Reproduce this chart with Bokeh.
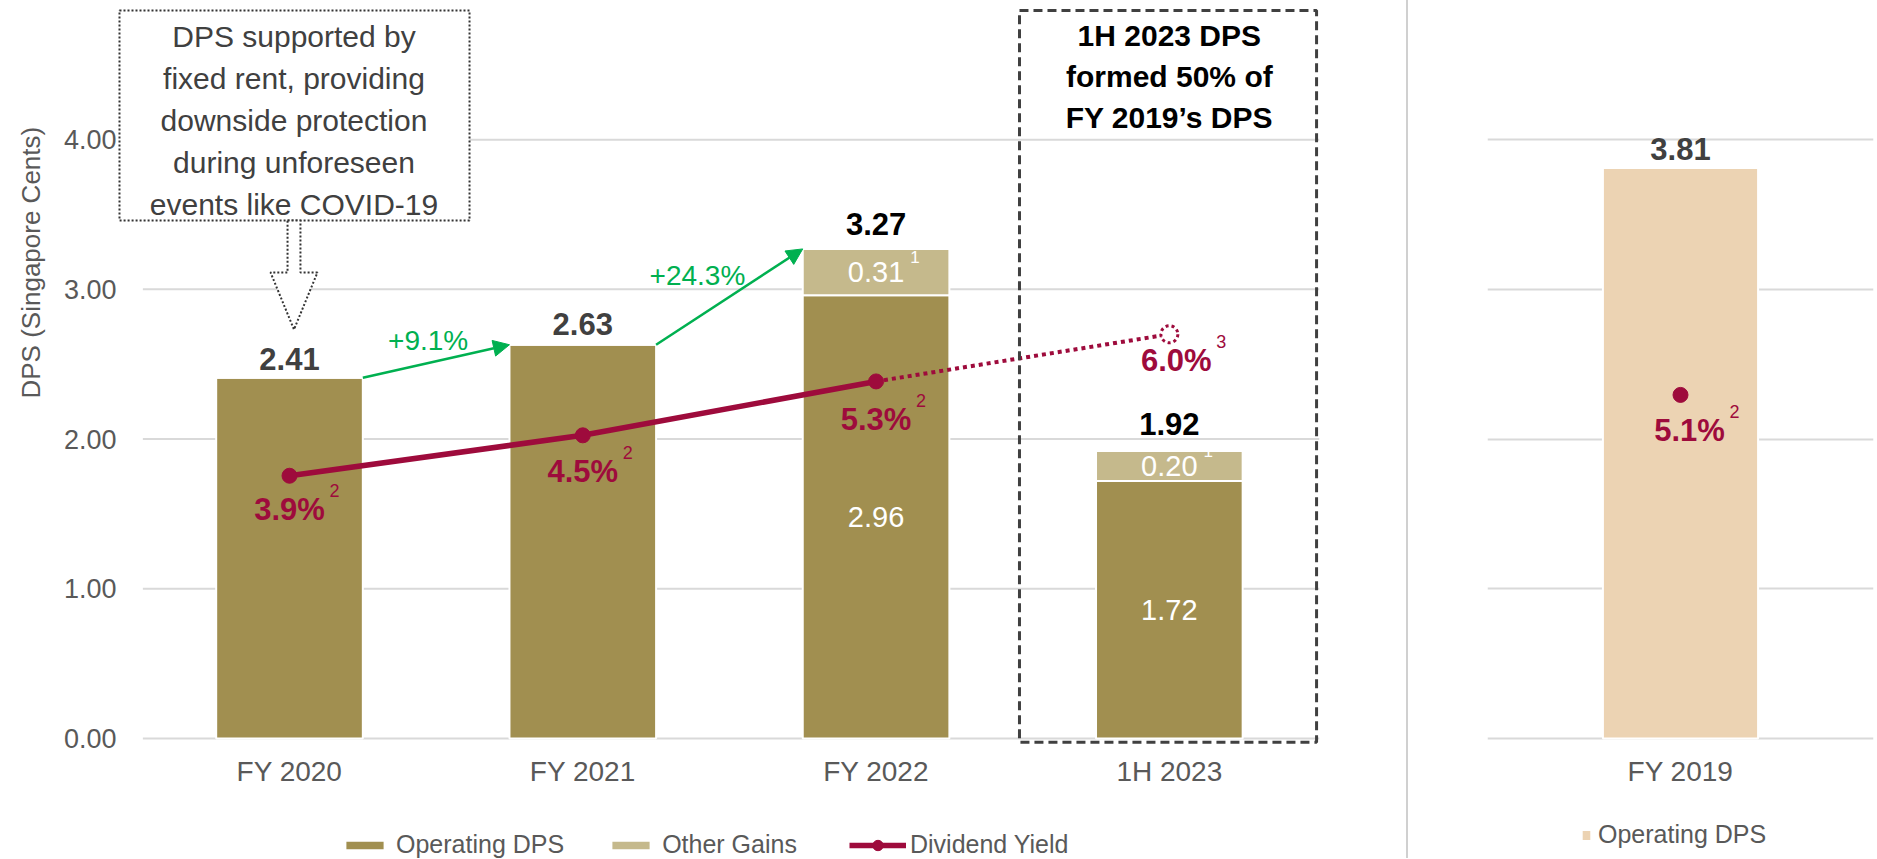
from bokeh.plotting import figure
from bokeh.models import (ColumnDataSource, Range1d, FixedTicker, Legend, LegendItem, Label,
                          BoxAnnotation, PolyAnnotation, Arrow, NormalHead, Div, Title,
                          NumeralTickFormatter)
from bokeh.layouts import row
from bokeh.embed import file_html
from bokeh.resources import INLINE
from bokeh.core.properties import value

# ---------------- data ----------------
categories = ["FY 2020", "FY 2021", "FY 2022", "1H 2023"]
operating_dps = [2.41, 2.63, 2.96, 1.72]
other_gains = [0.00, 0.00, 0.31, 0.20]
dividend_yield = [3.9, 4.5, 5.3, 6.0]          # %
yield_notes = ["2", "2", "2", "3"]
other_note = "1"
growth_labels = ["+9.1%", "+24.3%"]

ref_category = ["FY 2019"]
ref_operating_dps = [3.81]
ref_yield = [5.1]
ref_yield_note = ["2"]

y_ticks = [0, 1, 2, 3, 4]

annotation_text = ("DPS supported by\nfixed rent, providing\ndownside protection\n"
                   "during unforeseen\nevents like COVID-19")
box_text = "1H 2023 DPS\nformed 50% of\nFY 2019\u2019s DPS"
y_title = "DPS (Singapore Cents)"

# ---------------- style ----------------
FONT = "Liberation Sans"
OP = "#A18F50"
OG = "#C5B98C"
REF = "#ECD3B3"
YC = "#9E0B3C"
GREEN = "#00B050"
GRID = "#D9D9D9"
AX = "#595959"
DARK = "#404040"

Y0, Y1 = -0.8016, 4.876
K = 0.45              # DPS-axis units per 1 % of yield
X0, X1 = -0.5865, 3.512

total_label_offsets = [-19, -21, -25, -27]
total_label_colors = [DARK, DARK, "#000000", "#000000"]
yield_label_dx = [0, 0, 0, 7]
yield_label_dy = [34, 36, 38, 26]
growth_dx = [-8, -32]

idx = list(range(len(categories)))
totals = [round(a + b, 2) for a, b in zip(operating_dps, other_gains)]


def style_xaxis(p):
    p.outline_line_color = None
    p.xgrid.grid_line_color = None
    for ax in p.xaxis:
        ax.fixed_location = 0
        ax.axis_line_color = None
        ax.major_tick_line_color = None
        ax.minor_tick_line_color = None
        ax.major_tick_out = 0
        ax.major_label_text_font = FONT
        ax.major_label_text_font_size = "28px"
        ax.major_label_text_color = AX
        ax.major_label_standoff = 18


def legend_style(**kw):
    base = dict(orientation="horizontal", border_line_color=None, background_fill_alpha=0,
                padding=0, margin=0, label_text_font=FONT, label_text_font_size="25px",
                label_text_color=AX)
    base.update(kw)
    return base


# ================= left figure =================
p = figure(width=1406, height=858, x_range=Range1d(X0, X1), y_range=Range1d(Y0, Y1),
           output_backend="svg", toolbar_location=None,
           min_border_left=117, min_border_right=87, min_border_top=8, min_border_bottom=0)
p.extra_y_ranges = {"yld": Range1d(Y0 / K, Y1 / K)}
style_xaxis(p)
p.ygrid.grid_line_color = None
p.xaxis.ticker = FixedTicker(ticks=idx)
p.xaxis.major_label_overrides = {i: c for i, c in zip(idx, categories)}
p.yaxis.ticker = FixedTicker(ticks=y_ticks)
p.yaxis.formatter = NumeralTickFormatter(format="0.00")
p.yaxis.axis_line_color = None
p.yaxis.major_tick_line_color = None
p.yaxis.minor_tick_line_color = None
p.yaxis.major_tick_out = 0
p.yaxis.major_label_text_font = FONT
p.yaxis.major_label_text_font_size = "27px"
p.yaxis.major_label_text_color = AX
p.yaxis.major_label_standoff = 1

# horizontal gridlines over the category slots
p.segment(x0=[idx[0] - 0.5] * len(y_ticks), x1=[X1] * len(y_ticks), y0=y_ticks, y1=y_ticks,
          line_color=GRID, line_width=2)

src = ColumnDataSource(dict(
    x=idx, op=operating_dps, other=other_gains, total=totals,
    total_txt=[f"{t:.2f}" for t in totals],
    total_dy=total_label_offsets, total_col=total_label_colors,
))
op_r = p.vbar(x="x", bottom=0, top="op", width=0.5, fill_color=OP, line_color="white",
              line_width=2, source=src)
og_r = p.vbar(x="x", bottom="op", top="total", width=0.5, fill_color=OG, line_color="white",
              line_width=2, source=src)

p.text(x="x", y="total", text="total_txt", y_offset="total_dy", text_color="total_col",
       text_align="center", text_baseline="middle", text_font=value(FONT),
       text_font_size="31px", text_font_style="bold", source=src)

# labels inside stacked bars (only where other gains exist)
sx = [i for i, g in zip(idx, other_gains) if g > 0]
s_op = [o for o, g in zip(operating_dps, other_gains) if g > 0]
s_g = [g for g in other_gains if g > 0]
p.text(x=sx, y=[o / 2 for o in s_op], text=[f"{o:.2f}" for o in s_op], text_color="white",
       text_align="center", text_baseline="middle", text_font=value(FONT), text_font_size="29px")
p.text(x=sx, y=[o + g / 2 for o, g in zip(s_op, s_g)], text=[f"{g:.2f}" for g in s_g],
       text_color="white", text_align="center", text_baseline="middle",
       text_font=value(FONT), text_font_size="29px")
p.text(x=sx, y=[o + g / 2 for o, g in zip(s_op, s_g)], text=[other_note] * len(sx),
       x_offset=39, y_offset=-15, text_color="white", text_align="center",
       text_baseline="middle", text_font=value(FONT), text_font_size="17px")

# growth arrows
for i in range(len(growth_labels)):
    p.add_layout(Arrow(end=NormalHead(size=16, fill_color=GREEN, line_color=GREEN),
                       x_start=idx[i] + 0.25, y_start=totals[i],
                       x_end=idx[i + 1] - 0.25, y_end=totals[i + 1],
                       line_color=GREEN, line_width=2.5))
p.text(x=[idx[i] + 0.5 for i in range(len(growth_labels))],
       y=[(totals[i] + totals[i + 1]) / 2 for i in range(len(growth_labels))],
       text=growth_labels, x_offset=growth_dx, y_offset=-21, text_color=GREEN,
       text_align="center", text_baseline="middle", text_font=value(FONT),
       text_font_size="28px")

# dividend yield
line_r = p.line(x=idx[:3], y=dividend_yield[:3], y_range_name="yld", line_color=YC,
                line_width=5.5)
p.line(x=idx[2:4], y=dividend_yield[2:4], y_range_name="yld", line_color=YC,
       line_width=4, line_dash="4 4")
dot_r = p.scatter(x=idx[:3], y=dividend_yield[:3], y_range_name="yld", size=15,
                  fill_color=YC, line_color=YC)
p.scatter(x=idx[3:], y=dividend_yield[3:], y_range_name="yld", size=17, fill_color="white",
          line_color=YC, line_width=3, line_dash="3 3")
p.text(x=idx, y=dividend_yield, y_range_name="yld", text=[f"{v:.1f}%" for v in dividend_yield],
       x_offset=yield_label_dx, y_offset=yield_label_dy, text_color=YC, text_align="center",
       text_baseline="middle", text_font=value(FONT), text_font_size="31px",
       text_font_style="bold")
p.text(x=idx, y=dividend_yield, y_range_name="yld", text=yield_notes,
       x_offset=[d + 45 for d in yield_label_dx], y_offset=[d - 19 for d in yield_label_dy],
       text_color=YC, text_align="center", text_baseline="middle", text_font=value(FONT),
       text_font_size="18px")

# 1H 2023 dashed box
p.add_layout(BoxAnnotation(left=idx[3] - 0.511, right=idx[3] + 0.502, bottom=-0.025, top=4.863,
                           fill_alpha=0, line_color=DARK, line_alpha=1, line_width=3,
                           line_dash="9 5"))
p.add_layout(Label(x=idx[3], y=4.422, text=box_text, text_align="center",
                   text_baseline="middle", text_font=FONT, text_font_size="30px",
                   text_font_style="bold", text_color="#000000", text_line_height=1.25))

# callout box with arrow
p.add_layout(BoxAnnotation(left=idx[0] - 0.5797, right=idx[0] + 0.6138, bottom=3.46, top=4.863,
                           fill_color="white", fill_alpha=1, line_color="#333333",
                           line_alpha=1, line_width=2, line_dash="2 2"))
ax0 = idx[0] + 0.0153
p.add_layout(PolyAnnotation(
    xs=[ax0 - 0.022, ax0 + 0.022, ax0 + 0.022, ax0 + 0.08, ax0, ax0 - 0.08, ax0 - 0.022],
    ys=[3.46, 3.46, 3.113, 3.113, 2.732, 3.113, 3.113],
    fill_color="white", fill_alpha=1, line_color="#333333", line_alpha=1, line_width=2,
    line_dash="2 2"))
p.add_layout(Label(x=ax0, y=4.128, text=annotation_text, text_align="center",
                   text_baseline="middle", text_font=FONT, text_font_size="30px",
                   text_color=DARK, text_line_height=1.28))

# y-axis title
p.add_layout(Title(text=y_title, align="left", vertical_align="top", offset=460, standoff=26,
                   text_font=FONT, text_font_size="26px", text_font_style="normal",
                   text_color=AX), "left")

legend_a = Legend(items=[LegendItem(label="Operating DPS", renderers=[op_r]),
                         LegendItem(label="Other Gains", renderers=[og_r])],
                  location=(223, -1), spacing=42, label_standoff=7,
                  glyph_width=49, glyph_height=12, **legend_style())
legend_b = Legend(items=[LegendItem(label="Dividend Yield", renderers=[line_r, dot_r])],
                  location=(732, -1), label_standoff=4, glyph_width=57, glyph_height=26,
                  **legend_style())
p.add_layout(legend_a)
p.add_layout(legend_b)

# ================= right figure =================
p2 = figure(width=468, height=858, x_range=Range1d(-0.5, 0.5), y_range=Range1d(Y0, Y1),
            output_backend="svg", toolbar_location=None, y_axis_location=None,
            min_border_left=79, min_border_right=3, min_border_top=8, min_border_bottom=0)
p2.extra_y_ranges = {"yld": Range1d(Y0 / K, Y1 / K)}
style_xaxis(p2)
p2.ygrid.ticker = FixedTicker(ticks=y_ticks)
p2.ygrid.grid_line_color = GRID
p2.ygrid.grid_line_width = 2
rx = list(range(len(ref_category)))
p2.xaxis.ticker = FixedTicker(ticks=rx)
p2.xaxis.major_label_overrides = {i: c for i, c in zip(rx, ref_category)}

src2 = ColumnDataSource(dict(x=rx, op=ref_operating_dps,
                             txt=[f"{v:.2f}" for v in ref_operating_dps]))
r19 = p2.vbar(x="x", bottom=0, top="op", width=0.402, fill_color=REF, line_color="white",
              line_width=2, source=src2)
p2.text(x="x", y="op", text="txt", y_offset=-19, text_color=DARK, text_align="center",
        text_baseline="middle", text_font=value(FONT), text_font_size="31px",
        text_font_style="bold", source=src2)
p2.scatter(x=rx, y=ref_yield, y_range_name="yld", size=15, fill_color=YC, line_color=YC)
p2.text(x=rx, y=ref_yield, y_range_name="yld", text=[f"{v:.1f}%" for v in ref_yield],
        x_offset=9, y_offset=36, text_color=YC, text_align="center", text_baseline="middle",
        text_font=value(FONT), text_font_size="31px", text_font_style="bold")
p2.text(x=rx, y=ref_yield, y_range_name="yld", text=ref_yield_note, x_offset=54, y_offset=17,
        text_color=YC, text_align="center", text_baseline="middle", text_font=value(FONT),
        text_font_size="18px")

legend2 = Legend(items=[LegendItem(label="Operating DPS", renderers=[r19])],
                 location=(93, 9), label_standoff=6, glyph_width=12, glyph_height=14,
                 **legend_style())
p2.add_layout(legend2)

divider = Div(text="", width=2, height=858, margin=0,
              styles={"background-color": "#D0D0D0"})

layout = row(p, divider, p2, spacing=0)
open("out.html", "w").write(file_html(layout, INLINE))
